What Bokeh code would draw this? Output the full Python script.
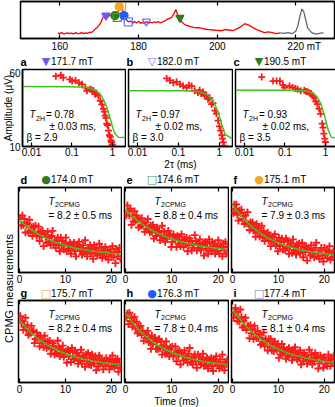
import numpy as np
from bokeh.plotting import figure
from bokeh.models import Label, Range1d, FixedTicker, LinearAxis
from bokeh.layouts import row, column
from bokeh.embed import file_html
from bokeh.resources import INLINE

FONT = "Liberation Sans"
SYM_FONT = "DejaVu Sans"
RED = "#ff1a1a"
FITC = "#3cc51e"

# ---------------- top spectrum ----------------
SPEC_FIELD = [159.5, 160.0, 160.5, 161.0, 161.5, 162.0, 162.5, 163.0, 163.5, 164.0,
              164.5, 165.0, 165.5, 166.0, 166.5, 167.0, 167.5, 168.0, 168.5, 169.0,
              169.5, 170.0, 170.5, 171.0, 171.7, 172.2, 172.7, 173.2, 174.0, 174.6,
              175.1, 175.7, 176.3, 176.8, 177.4, 178.0, 178.5, 179.0, 179.5, 180.0,
              180.5, 181.0, 181.5, 182.0, 182.5, 183.0, 183.5, 184.0, 184.5, 185.0,
              185.5, 186.0, 186.5, 187.0, 187.5, 188.0, 188.5, 189.0, 189.5, 190.0,
              190.5, 191.0, 191.5, 192.0, 193.0, 194.0, 195.0, 196.0, 197.0, 198.0,
              199.0, 200.0, 201.0, 202.0, 203.0, 204.0, 205.0, 206.0, 207.0, 208.0,
              209.0, 210.0, 211.0, 212.0, 213.0, 214.0, 215.0, 216.0]
SPEC_AMP = [0.15, 0.13, 0.16, 0.12, 0.14, 0.15, 0.13, 0.15, 0.12, 0.16,
            0.13, 0.14, 0.16, 0.13, 0.15, 0.14, 0.17, 0.16, 0.20, 0.26,
            0.30, 0.36, 0.45, 0.58, 0.62, 0.58, 0.63, 0.61, 0.62, 0.57,
            0.86, 0.88, 0.62, 0.52, 0.45, 0.47, 0.41, 0.46, 0.42, 0.47,
            0.41, 0.44, 0.40, 0.46, 0.41, 0.44, 0.42, 0.45, 0.43, 0.46,
            0.42, 0.44, 0.46, 0.50, 0.53, 0.55, 0.58, 0.68, 0.78, 0.62,
            0.56, 0.45, 0.40, 0.36, 0.33, 0.30, 0.29, 0.28, 0.25, 0.24,
            0.23, 0.22, 0.21, 0.24, 0.23, 0.21, 0.26, 0.32, 0.40, 0.36,
            0.30, 0.24, 0.20, 0.16, 0.18, 0.16, 0.13, 0.15]
REF_FIELD = [216.0, 217.0, 218.0, 219.0, 220.0, 220.5, 221.0, 221.5, 222.0, 222.5,
             223.0, 224.0, 225.0, 226.0, 227.0]
REF_AMP = [0.15, 0.14, 0.16, 0.13, 0.20, 0.35, 0.60, 0.80, 0.72, 0.50,
           0.28, 0.16, 0.12, 0.14, 0.16]
SPEC_TICKS = [160, 180, 200, 220]
SPEC_TICK_LABELS = {160: "160", 180: "180", 200: "200", 220: "\u2007\u2007\u2007220 mT"}

# measurement fields (marker on spectrum + panel header)
MARK_FIELD = [171.7, 182.0, 190.5, 174.0, 174.6, 175.1, 175.7, 176.3, 177.4]
MARK_AMP = [0.62, 0.46, 0.56, 0.62, 0.57, 0.86, 0.88, 0.62, 0.45]
MARK_TYPE = ["inverted_triangle", "inverted_triangle", "inverted_triangle", "circle", "square",
             "circle", "square", "circle", "square"]
MARK_FILLED = [True, False, True, True, False, True, False, True, False]
MARK_COLOR = ["#7652f2", "#8a6cf0", "#2e7a18", "#2a7d1a", "#3f9b32", "#f5a623", "#f2a531",
              "#1f5cff", "#5b84f5"]
MARK_SYM = ["\u25BC", "\u25BD", "\u25BC", "\u25CF", "\u25A1", "\u25CF", "\u25A1", "\u25CF", "\u25A1"]
LETTERS = ["a", "b", "c", "d", "e", "f", "g", "h", "i"]

# ---------------- Hahn echo decays (a-c) ----------------
A_X = [0.040, 0.053, 0.061, 0.089, 0.101, 0.122, 0.148, 0.178, 0.214, 0.234, 0.28, 0.31, 0.34,
       0.37, 0.41, 0.45, 0.50, 0.55, 0.60, 0.63, 0.66, 0.69, 0.72, 0.76, 0.80, 0.84, 0.88,
       0.92, 0.95, 0.98, 1.0]
A_Y = [51.4, 52.6, 49.6, 47.6, 45.8, 46.5, 44.1, 42.5, 39.4, 36.5, 38.0, 37.2, 36.5,
       33.8, 34.5, 32.5, 29.0, 26.5, 24.0, 22.5, 20.5, 19.5, 17.0, 16.5, 14.5, 13.0, 12.5,
       11.5, 11.1, 10.5, 10.3]
B_X = [0.0515, 0.062, 0.075, 0.09, 0.109, 0.13, 0.158, 0.18, 0.21, 0.25, 0.30, 0.33, 0.36,
       0.40, 0.44, 0.48, 0.53, 0.58, 0.65, 0.70, 0.78, 0.85, 0.93, 1.0, 1.08, 1.15, 1.19,
       1.25, 1.3]
B_Y = [48.8, 46.5, 44.2, 45.0, 42.5, 40.8, 39.3, 41.5, 40.8, 36.5, 35.1, 37.0, 34.3,
       35.5, 32.5, 33.0, 30.1, 31.0, 26.8, 27.5, 23.0, 21.5, 18.3, 16.0, 14.5, 13.0, 12.0,
       11.0, 10.2]
C_X = [0.0267, 0.051, 0.062, 0.075, 0.089, 0.098, 0.129, 0.155, 0.18, 0.205, 0.245, 0.30,
       0.33, 0.36, 0.40, 0.44, 0.48, 0.52, 0.58, 0.63, 0.70, 0.76, 0.83, 0.87, 0.91, 0.96, 1.0]
C_Y = [50.3, 45.8, 45.8, 45.8, 41.8, 39.4, 40.8, 39.4, 38.5, 37.9, 36.5, 37.1,
       36.0, 35.8, 35.0, 34.3, 32.5, 31.3, 28.5, 26.8, 24.0, 21.4, 17.0, 15.5, 13.5, 12.0, 11.1]
HE_FIT_X = [0.006, 0.1, 0.2, 0.3, 0.4, 0.5, 0.6, 0.7, 0.8, 0.9, 1.0, 1.1, 1.2, 1.4, 2.1]
A_FIT = [40.3, 40.2, 39.8, 38.6, 36.5, 33.6, 29.8, 25.8, 21.9, 18.5, 15.9, 14.2, 13.2, 12.4, 12.3]
B_FIT = [36.5, 36.5, 36.3, 35.8, 34.8, 33.4, 31.3, 28.8, 26.0, 23.0, 20.2, 17.7, 15.7, 13.2, 12.0]
C_FIT = [37.0, 37.0, 36.9, 36.5, 35.7, 34.3, 32.2, 29.3, 25.9, 22.2, 18.9, 16.1, 14.2, 12.4, 12.0]
T2H = ["0.78", "0.97", "0.93"]
T2H_ERR = ["0.03", "0.02", "0.02"]
BETA = ["2.9", "3.0", "3.5"]

# ---------------- CPMG decays (d-i), amplitude in % of panel height ----------------
CPMG_T = np.round(0.2 + 0.22 * np.arange(100), 2)
D_VALS = [64, 55, 67, 56, 63, 47, 56, 58, 47, 62, 49, 53, 43, 54, 47, 55, 43, 46, 54, 37,
          48, 42, 49, 31, 45, 42, 35, 48, 36, 41, 32, 43, 49, 33, 36, 29, 38, 41, 32, 25,
          41, 32, 37, 27, 34, 41, 25, 32, 28, 35, 22, 33, 30, 35, 25, 19, 33, 30, 36, 26,
          29, 21, 32, 24, 38, 25, 19, 29, 26, 32, 22, 27, 16, 32, 23, 29, 20, 25, 34, 21,
          29, 17, 26, 23, 30, 19, 26, 15, 23, 27, 21, 31, 18, 24, 11, 28, 19, 24, 29, 16]
E_VALS = [67, 79, 73, 67, 75, 56, 67, 60, 72, 61, 67, 62, 53, 63, 55, 64, 56, 58, 48, 59,
          51, 63, 53, 47, 55, 48, 56, 40, 50, 43, 53, 47, 49, 38, 44, 55, 41, 48, 36, 43,
          40, 49, 43, 44, 30, 36, 45, 39, 41, 30, 43, 34, 38, 31, 45, 38, 30, 39, 34, 41,
          25, 32, 40, 37, 26, 33, 29, 44, 37, 26, 34, 29, 39, 26, 32, 34, 20, 36, 28, 34,
          22, 39, 30, 25, 36, 28, 34, 22, 31, 25, 38, 22, 32, 29, 19, 34, 26, 36, 22, 30]
F_VALS = [70, 80, 75, 80, 68, 61, 73, 70, 74, 63, 66, 57, 67, 58, 71, 57, 50, 59, 54, 59,
          49, 54, 42, 57, 47, 52, 42, 47, 55, 41, 49, 37, 45, 41, 47, 37, 43, 31, 38, 42,
          36, 45, 32, 37, 25, 41, 31, 36, 40, 27, 36, 27, 40, 29, 37, 22, 31, 34, 23, 39,
          26, 31, 21, 33, 27, 34, 23, 27, 35, 18, 30, 24, 31, 14, 28, 26, 20, 32, 21, 26,
          18, 29, 35, 19, 23, 16, 26, 29, 20, 13, 29, 21, 26, 17, 24, 31, 15, 22, 18, 26]
G_VALS = [81, 73, 75, 64, 68, 79, 64, 70, 58, 63, 60, 69, 62, 63, 48, 53, 61, 54, 56, 44,
          57, 48, 51, 43, 57, 49, 42, 50, 44, 51, 35, 41, 48, 45, 34, 40, 36, 51, 43, 32,
          40, 34, 45, 31, 37, 38, 24, 40, 32, 37, 25, 42, 32, 28, 39, 30, 36, 23, 32, 27,
          40, 23, 33, 30, 19, 34, 26, 36, 22, 30, 21, 34, 28, 23, 32, 15, 27, 20, 33, 23,
          29, 25, 16, 27, 20, 30, 23, 26, 16, 28, 20, 33, 24, 18, 27, 21, 29, 13, 24, 18]
H_VALS = [79, 84, 71, 85, 75, 79, 68, 73, 80, 66, 74, 60, 68, 63, 69, 58, 63, 51, 58, 60,
          54, 63, 49, 54, 41, 57, 47, 51, 55, 41, 50, 41, 53, 42, 50, 34, 43, 45, 35, 50,
          37, 41, 32, 43, 36, 44, 32, 36, 44, 26, 38, 32, 39, 22, 36, 33, 27, 39, 28, 32,
          24, 35, 42, 25, 29, 22, 31, 34, 26, 18, 34, 26, 31, 22, 28, 35, 20, 27, 22, 30,
          17, 28, 25, 30, 20, 14, 28, 26, 32, 21, 24, 17, 28, 20, 34, 22, 15, 25, 22, 28]
I_VALS = [79, 85, 91, 86, 75, 80, 74, 89, 80, 67, 75, 69, 79, 64, 69, 69, 54, 70, 60, 65,
          53, 69, 59, 54, 63, 54, 59, 46, 54, 48, 61, 44, 53, 50, 39, 53, 44, 53, 39, 47,
          38, 50, 44, 39, 47, 30, 41, 34, 47, 36, 42, 38, 29, 40, 32, 42, 34, 37, 27, 39,
          31, 43, 34, 28, 36, 30, 39, 22, 33, 26, 36, 30, 33, 23, 28, 40, 26, 34, 22, 29,
          26, 36, 30, 31, 17, 23, 33, 27, 30, 18, 31, 23, 27, 20, 34, 27, 20, 29, 24, 32]
CPMG_FIT_T = [0, 1, 2, 3, 4, 6, 8, 10, 12, 14, 16, 18, 20, 22]
D_FIT = [62.0, 57.1, 52.7, 48.8, 45.4, 39.7, 35.2, 31.7, 28.9, 26.8, 25.1, 23.8, 22.7, 21.9]
E_FIT = [74.0, 68.5, 63.6, 59.3, 55.4, 48.8, 43.6, 39.4, 36.1, 33.4, 31.3, 29.6, 28.3, 27.2]
F_FIT = [80.0, 72.5, 65.9, 60.1, 55.0, 46.5, 39.9, 34.8, 30.8, 27.7, 25.3, 23.4, 22.0, 20.9]
G_FIT = [76.0, 69.3, 63.5, 58.3, 53.6, 45.9, 39.9, 35.1, 31.4, 28.5, 26.2, 24.4, 23.0, 21.9]
H_FIT = [85.0, 77.0, 69.9, 63.6, 58.1, 49.0, 42.1, 36.6, 32.4, 29.1, 26.6, 24.7, 23.2, 22.0]
I_FIT = [90.0, 81.9, 74.7, 68.3, 62.7, 53.4, 46.0, 40.4, 35.9, 32.5, 29.7, 27.6, 26.0, 24.6]
T2CPMG = ["8.2", "8.8", "7.9", "8.2", "7.8", "8.1"]
T2CPMG_ERR = ["0.5", "0.4", "0.3", "0.4", "0.4", "0.4"]


# ---------------- helpers ----------------
def base_fig(fw, fh, xr, yr, xt="linear", yt="linear", left=2, right=1, top=1, bottom=14,
             yaxis=False, xaxis=True):
    p = figure(frame_width=fw, frame_height=fh, x_range=xr, y_range=yr,
               x_axis_type=xt, y_axis_type=yt,
               x_axis_location="below" if xaxis else None,
               y_axis_location="left" if yaxis else None,
               min_border_left=left, min_border_right=right,
               min_border_top=top, min_border_bottom=bottom,
               title=None, output_backend="svg", toolbar_location=None)
    p.outline_line_color = "black"
    p.outline_line_width = 1.5
    p.outline_line_alpha = 1.0
    p.grid.visible = False
    p.background_fill_color = "white"
    p.border_fill_color = "white"
    return p


def style_axis(ax, labels=True, standoff=2):
    ax.axis_line_color = "black"
    ax.axis_line_width = 1.5
    ax.major_tick_in = 4
    ax.major_tick_out = 0
    ax.major_tick_line_color = "black"
    ax.major_tick_line_width = 1.2
    ax.minor_tick_line_color = None
    ax.major_label_text_font = FONT
    if labels:
        ax.major_label_text_color = "black"
        ax.major_label_text_font_size = "10px"
        ax.major_label_standoff = standoff
    else:
        ax.major_label_text_color = None
        ax.major_label_text_alpha = 0
        ax.major_label_text_font_size = "0px"
        ax.major_label_standoff = 0
    ax.axis_label_text_font = FONT
    ax.axis_label_text_font_size = "10px"
    ax.axis_label_text_font_style = "normal"
    ax.axis_label_text_color = "black"
    ax.axis_label_standoff = 0


def text_fig(w, h):
    f = figure(frame_width=w, frame_height=h, x_range=Range1d(0, w), y_range=Range1d(0, h),
               x_axis_location=None, y_axis_location=None,
               min_border_left=0, min_border_right=0, min_border_top=0, min_border_bottom=0,
               title=None, output_backend="svg", toolbar_location=None)
    f.outline_line_color = None
    f.grid.visible = False
    f.border_fill_color = "white"
    f.background_fill_color = "white"
    return f


def lab(p, x, y, text, size="10px", color="black", style="normal", font=FONT,
        align="left", baseline="middle", angle=0):
    p.add_layout(Label(x=x, y=y, x_units="screen", y_units="screen", text=text,
                       text_font=font, text_font_size=size, text_color=color,
                       text_font_style=style, text_align=align, text_baseline=baseline,
                       angle=angle, angle_units="deg"))


def header(f, i, x0, y):
    lab(f, x0 + 2, y, LETTERS[i], size="11px", style="bold")
    lab(f, x0 + 27.5, y, MARK_SYM[i], size="11px", color=MARK_COLOR[i], font=SYM_FONT, align="center")
    lab(f, x0 + 32.5, y, "%.1f mT" % MARK_FIELD[i], size="10px")


FWS = [103, 104, 103]          # frame widths of the three columns
LEFTS = [18, 2, 2]             # left borders (row 1)
HDR23_X = [2, 108, 215]        # frame left edges in the header right of the CPMG title

# ---------------- top spectrum ----------------
top = base_fig(314, 37, Range1d(150.0, 229.8), Range1d(0, 1), left=20, right=1, top=1, bottom=14)
xa = top.xaxis[0]
xa.ticker = FixedTicker(ticks=SPEC_TICKS)
xa.major_label_overrides = SPEC_TICK_LABELS
style_axis(xa)
ab = LinearAxis(ticker=FixedTicker(ticks=SPEC_TICKS))
style_axis(ab, labels=False)
top.add_layout(ab, "above")
top.line(SPEC_FIELD, SPEC_AMP, line_color="#ff0000", line_width=1.3)
top.line(REF_FIELD, REF_AMP, line_color="#5f6b73", line_width=1.3)
for i in range(9):
    top.scatter([MARK_FIELD[i]], [MARK_AMP[i]], marker=MARK_TYPE[i], size=8,
                line_color=MARK_COLOR[i], line_width=1.3,
                fill_color=MARK_COLOR[i] if MARK_FILLED[i] else None)

# ---------------- Hahn echo row ----------------
ROW1_FH = 77
he_x = [A_X, B_X, C_X]
he_y = [A_Y, B_Y, C_Y]
he_fit = [A_FIT, B_FIT, C_FIT]
hdr1 = []
row1 = []
for k in range(3):
    p = base_fig(FWS[k], ROW1_FH, Range1d(0.006, 2.1), Range1d(10, 60), xt="log", yt="log",
                 left=LEFTS[k], top=1, bottom=24, yaxis=(k == 0))
    xa = p.xaxis[0]
    xa.ticker = FixedTicker(ticks=[0.01, 0.1, 1])
    xa.major_label_overrides = {0.01: "0.01", 0.1: "0.1", 1: "1"}
    style_axis(xa, standoff=1)
    if k == 1:
        xa.axis_label = "2\u03c4 (ms)"
    if k == 0:
        ya = p.yaxis[0]
        ya.ticker = FixedTicker(ticks=[10, 60])
        ya.major_label_overrides = {10: "10", 60: "60"}
        style_axis(ya)
        ya.axis_label = "Amplitude (\u03bcV)"
        ya.axis_label_standoff = -8
    p.scatter(he_x[k], he_y[k], marker="cross", size=7, line_color=RED, line_width=1.8)
    p.line(HE_FIT_X, he_fit[k], line_color=FITC, line_width=1.5)
    h = text_fig(LEFTS[k] + FWS[k] + 1, 14)
    header(h, k, LEFTS[k], 7)
    hdr1.append(h)
    lab(p, 7, 32, "T", size="10px", style="italic")
    lab(p, 13.5, 28.5, "2H", size="7px")
    lab(p, 23.5, 32, "= " + T2H[k])
    lab(p, 27, 20.5, "\u00b1 " + T2H_ERR[k] + " ms,")
    lab(p, 4, 9, "\u03b2 = " + BETA[k])
    row1.append(p)

# ---------------- CPMG rows ----------------
CP_FH = [85, 82]
CP_BOTTOM = [14, 27]
cp_vals = [D_VALS, E_VALS, F_VALS, G_VALS, H_VALS, I_VALS]
cp_fit = [D_FIT, E_FIT, F_FIT, G_FIT, H_FIT, I_FIT]
cp_figs = []
hdr2 = text_fig(319, 14)
hdr3 = text_fig(319, 13)
for idx in range(6):
    r = idx // 3
    k = idx % 3
    fh = CP_FH[r]
    p = base_fig(FWS[k], fh, Range1d(-0.2, 22.2), Range1d(0, 100), left=2, top=1,
                 bottom=CP_BOTTOM[r])
    xa = p.xaxis[0]
    xa.ticker = FixedTicker(ticks=[0, 10, 20])
    style_axis(xa, standoff=2)
    ab = LinearAxis(ticker=FixedTicker(ticks=[0, 10, 20]))
    style_axis(ab, labels=False)
    p.add_layout(ab, "above")
    if idx == 4:
        xa.axis_label = "Time (ms)"
    p.scatter(CPMG_T, cp_vals[idx], marker="cross", size=7.5, line_color=RED, line_width=1.9)
    p.line(CPMG_FIT_T, cp_fit[idx], line_color=FITC, line_width=1.5)
    header(hdr2 if r == 0 else hdr3, idx + 3, HDR23_X[k], 7 if r == 0 else 6.5)
    lab(p, 30, fh - 14, "T", size="10px", style="italic")
    lab(p, 36.5, fh - 17, "2CPMG", size="7px")
    lab(p, 30, fh - 28, "= " + T2CPMG[idx] + " \u00b1 " + T2CPMG_ERR[idx] + " ms")
    cp_figs.append(p)

# left title column for CPMG rows
TTL_H = 14 + (1 + CP_FH[0] + CP_BOTTOM[0]) + 13 + (1 + CP_FH[1] + CP_BOTTOM[1])
ttl = text_fig(16, TTL_H)
lab(ttl, 8, TTL_H - 116, "CPMG measurements", size="11px", align="center", angle=90)

layout = column(top, row(*hdr1), row(*row1),
                row(ttl, column(hdr2, row(*cp_figs[:3]), hdr3, row(*cp_figs[3:]))))

open("out.html", "w").write(file_html(layout, INLINE))
